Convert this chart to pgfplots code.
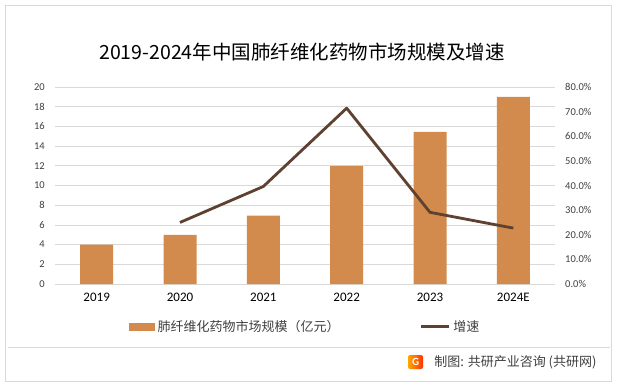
\documentclass[border=0pt]{standalone}
\usepackage{pgfplots}
\pgfplotsset{compat=1.18}
\usepackage{fontspec}
\setmainfont{Carlito}
\newfontfamily\cjk{Noto Sans CJK SC}
\definecolor{barc}{HTML}{D38B4D}
\definecolor{linec}{HTML}{5E4130}
\definecolor{gridc}{HTML}{D9D9D9}
\definecolor{txtc}{HTML}{404040}
\begin{document}
\begin{tikzpicture}[x=1pt,y=1pt]
\useasboundingbox (0,0) rectangle (617,386);
\fill[white] (0,0) rectangle (617,386);
\draw[gridc, line width=0.8pt] (5,5) rectangle (611,381);
% title
\node[text=black] at (302,334) {\cjk\fontsize{19.5}{23}\selectfont 2019-2024年中国肺纤维化药物市场规模及增速};
\begin{axis}[
  at={(55pt,102pt)}, anchor=south west, scale only axis,
  width=500pt, height=197pt,
  xmin=-0.5, xmax=5.5, ymin=0, ymax=20,
  ytick={0,2,...,20}, xtick={0,1,2,3,4,5},
  xticklabels={2019,2020,2021,2022,2023,2024E},
  axis line style={draw=none}, tick style={draw=none},
  ymajorgrids, grid style={gridc, line width=0.8pt},
  /pgf/number format/assume math mode=true,
  yticklabel style={font=\fontsize{10.5}{12}\selectfont, text=txtc, inner sep=0pt, xshift=-10pt},
  xticklabel style={font=\fontsize{13}{15}\selectfont, text=black, inner sep=0pt, anchor=north, yshift=-9pt},
  bar width=33pt,
]
\addplot[ybar, fill=barc, draw=none] coordinates {(0,4) (1,5) (2,6.95) (3,12) (4,15.45) (5,19)};
\end{axis}
\begin{axis}[
  at={(55pt,102pt)}, anchor=south west, scale only axis,
  width=500pt, height=197pt,
  xmin=-0.5, xmax=5.5, ymin=0, ymax=80,
  ytick={0,10,...,80}, xtick=\empty,
  axis y line*=right, axis x line=none,
  axis line style={draw=none}, tick style={draw=none},
  /pgf/number format/assume math mode=true,
  yticklabel={\pgfmathprintnumber[fixed,fixed zerofill,precision=1]{\tick}\%},
  yticklabel style={font=\fontsize{10.5}{12}\selectfont, text=txtc, inner sep=0pt, anchor=west, xshift=10pt},
  legend columns=2,
  legend style={draw=none, fill=none, at={(0.148,-0.2168)}, anchor=west, inner sep=0pt,
    font=\cjk\fontsize{13}{15}\selectfont, nodes={inner sep=0pt, anchor=west, text=txtc},
    /tikz/every even column/.append style={column sep=80pt}},
]
\addlegendimage{legend image code/.code={\fill[barc] (0pt,-3.5pt) rectangle (25pt,3.5pt);}}
\addlegendentry{\hspace{3pt}肺纤维化药物市场规模（亿元）}
\addplot[linec, line width=2.8pt, line join=round, mark=none,
  legend image code/.code={\draw[linec, line width=2.8pt] (0pt,0pt) -- (28pt,0pt);}]
  coordinates {(1,25) (2,39.6) (3,71.4) (4,29.1) (5,22.7)};
\addlegendentry{\hspace{3pt}增速}
\end{axis}
% footer
\draw[gridc, line width=0.6pt] (8,39) -- (610,39);
\shade[left color=orange!70!yellow, right color=red!60!orange, rounded corners=2pt] (408,17) rectangle (423,31);
\node[text=white, font=\bfseries\fontsize{11}{12}\selectfont] at (415.5,24) {G};
\node[anchor=east, text=txtc] at (600,24) {\cjk\fontsize{13}{15}\selectfont 制图: 共研产业咨询 (共研网)};
\end{tikzpicture}
\end{document}
